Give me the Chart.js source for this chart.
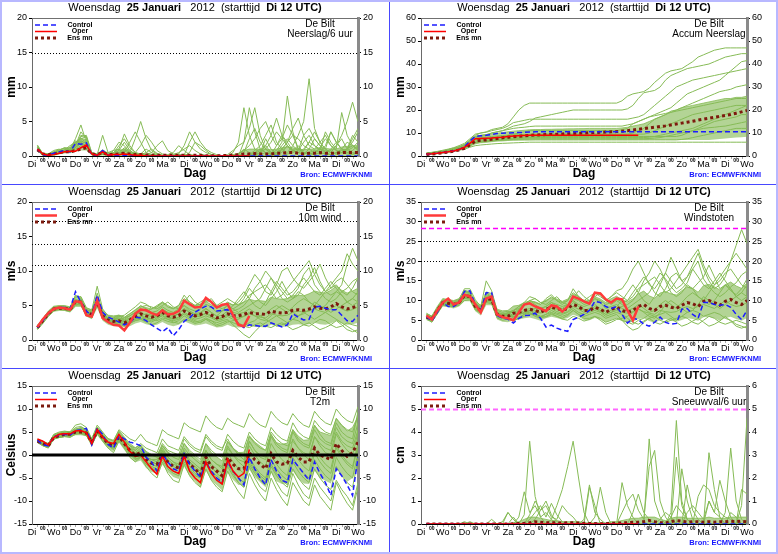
<!DOCTYPE html>
<html>
<head>
<meta charset="utf-8">
<script src="https://cdn.jsdelivr.net/npm/chart.js@4.4.1/dist/chart.umd.min.js"></script>
<style>
  body { margin: 0; background: #fff; }
  #sheet { position: relative; width: 778px; height: 554px; overflow: hidden; background: #fff; }
  #sheet canvas { position: absolute; }
  .rule { position: absolute; background: #4848ff; }
  #frame { position: absolute; left: 0; top: 0; width: 774px; height: 550px; border: 2px solid #b8b8ff; pointer-events: none; }
</style>
</head>
<body>
<div id="sheet">
  <canvas id="p1" width="389" height="184" style="left:0;top:0"></canvas>
  <canvas id="p2" width="389" height="184" style="left:389px;top:0"></canvas>
  <canvas id="p3" width="389" height="184" style="left:0;top:184px"></canvas>
  <canvas id="p4" width="389" height="184" style="left:389px;top:184px"></canvas>
  <canvas id="p5" width="389" height="186" style="left:0;top:368px"></canvas>
  <canvas id="p6" width="389" height="186" style="left:389px;top:368px"></canvas>
  <div class="rule" style="left:389px;top:0;width:1px;height:554px"></div>
  <div class="rule" style="left:0;top:184px;width:778px;height:1px"></div>
  <div class="rule" style="left:0;top:368px;width:778px;height:1px"></div>
  <div id="frame"></div>
</div>
<script>
// x axis: forecast hours from Di 12 UTC, one value every 6 hours (first at +6h)
const STEP_H = 6;
const dayNames = ['Di', 'Wo', 'Do', 'Vr', 'Za', 'Zo', 'Ma', 'Di', 'Wo', 'Do', 'Vr', 'Za', 'Zo', 'Ma', 'Di', 'Wo'];
const midnightLabel = '00';
const titleParts = [['Woensdag  ', false], ['25 Januari   ', true], ['2012  (starttijd  ', false], ['Di 12 UTC)', true]];
const station = 'De Bilt';

// ---------- Neerslag / 6 uur ----------
const rain6Ctrl = [
  1.0,0.2,0.1,0.4,0.6,0.8,0.6,1.8,1.7,1.9,
  0.2,0.1,0.8,0.1,0.1,0.1,0.1,0.1,0,0,
  0,0,0,0,0,0,0,0,0,0,
  0,0,0,0,0,0,0,0,0,0,
  0,0,0,0,0,0,0,0,0,0,
  0,0,0,0,0,0,0,0,0,0];
const rain6Oper = [
  1.0,0.3,0.1,0.2,0.4,0.6,0.7,0.7,1.2,1.6,
  0.3,0.1,0.6,0.1,0.2,0.2,0.3,0.2,0.1,0.1,
  0,0,0,0,0,0,0,0,0,0,
  0,0,0,0,0,0,0,0,0,0];
const rain6Mean = [
  0.9,0.3,0.2,0.3,0.5,0.6,0.6,0.8,1.0,1.2,
  0.3,0.2,0.5,0.2,0.2,0.3,0.4,0.3,0.2,0.2,
  0.15,0.1,0.1,0.1,0.1,0.1,0.1,0.1,0.1,0.1,
  0.1,0.05,0.05,0.05,0.05,0.1,0.1,0.2,0.3,0.3,
  0.35,0.3,0.3,0.3,0.4,0.4,0.5,0.5,0.4,0.3,
  0.4,0.4,0.5,0.4,0.4,0.4,0.5,0.5,0.5,0.5];
// where most members crowd together
const rain6CoreLow = [
  0.7,0.1,0.1,0.2,0.3,0.4,0.4,0.6,0.8,0.8,
  0.1,0,0.1,0,0,0,0,0,0,0,
  0,0,0,0,0,0,0,0,0,0,
  0,0,0,0,0,0,0,0,0,0,
  0,0,0,0,0,0,0,0,0,0,
  0,0,0,0,0,0,0,0,0,0];
const rain6CoreHigh = [
  1.3,0.4,0.3,0.6,0.9,1.2,1.2,2.0,2.6,2.3,
  0.5,0.3,0.9,0.4,0.5,0.8,1.0,0.6,0.4,0.3,
  0.3,0.2,0.2,0.1,0.1,0.1,0.2,0.2,0.2,0.1,
  0.1,0.05,0.05,0.05,0.05,0.1,0.2,0.4,0.8,1.0,
  1.0,1.0,1.0,0.9,1.0,1.2,1.3,1.2,1.0,0.9,
  1.0,1.0,1.2,1.1,1.0,1.0,1.3,1.4,1.5,1.5];
const rain6Members = [
  [1.4,0.2,0.1,0.5,0.8,1.2,0.9,2.5,4.5,2.0, 0.4,0.2,3.0,0.5,0.3,0.2,1.0,0.5,0.2,0.1, 0,0,0,0,0.2,0.5,1.5,0.8,0.2,0, 0,0,0,0,0,0,0.5,2.0,7.0,3.0, 1.0,0.5,2.5,1.0,0.3,0.5,1.5,0.8,0.5,0.3, 1.0,2.5,1.5,0.5,0.2,0.5,1.0,2.0,1.5,0.8],
  [1.0,0.1,0.3,0.8,1.0,0.5,0.8,1.5,3.0,2.8, 0.2,0.1,0.5,0.2,0.5,1.0,3.2,1.5,0.5,0.2, 0.5,1.0,0.4,0.1,0,0,0,0,0,0, 0,0,0,0,0,0.2,0.8,1.5,2.0,7.0, 3.5,1.0,0.5,0.2,1.5,3.0,2.0,0.8,0.5,1.0, 2.0,3.5,2.0,1.0,0.5,0.3,0.5,1.0,2.5,4.0],
  [0.8,0.3,0.2,0.3,0.4,0.9,1.5,2.0,2.2,1.8, 0.5,0.1,0.3,0.1,0.8,2.0,1.5,0.5,2.5,5.0, 2.5,0.8,0.3,0.1,0,0,0,0,0,0, 0,0,0,0,0,0,0,0.3,1.0,0.5, 0.2,0.5,1.5,3.0,5.5,3.0,1.5,0.8,1.0,0.5, 0.3,0.2,0.5,1.5,3.5,2.0,1.0,0.5,0.8,1.5],
  [1.2,0.2,0.1,0.2,0.6,0.8,0.5,1.2,1.8,1.5, 0.3,0.1,0.2,0.1,0.1,0.3,0.8,0.3,0.5,1.5, 3.0,2.0,0.8,0.3,0.1,0,0,0,0,0, 0,0,0,0,0,0,0,0,0.5,2.5, 4.0,2.0,1.0,0.5,0.8,2.0,8.7,3.5,1.0,0.5, 0.3,0.5,1.0,0.8,0.5,1.5,2.5,1.0,0.5,0.3],
  [1.5,0.3,0.1,0.1,0.3,0.5,0.8,1.8,2.5,2.8, 0.2,0.1,0.4,0.2,0.2,0.5,0.3,0.2,0.1,0.1, 0.2,0.5,1.5,2.2,0.8,0.3,0.2,0.1,2.0,3.5, 2.0,1.0,0.5,0.2,0,0,0,0,0,0.2, 0.8,1.5,3.0,4.5,2.0,1.0,0.5,1.5,3.0,5.0, 11.2,4.0,2.0,1.0,0.5,0.3,0.5,1.0,3.0,2.0],
  [0.9,0.1,0.2,0.4,0.5,0.7,0.6,1.0,1.5,1.2, 0.3,0.2,0.6,0.3,0.1,0.2,0.4,0.2,0.1,0.1, 0,0,0,0,0,0,0,0,0.5,2.0, 1.5,0.8,0.2,0,0,0,0.1,0.3,0.8,1.5, 2.5,4.0,5.0,3.0,1.5,2.5,4.5,3.0,1.0,0.8, 2.0,1.5,0.8,3.5,2.0,1.0,6.3,3.0,1.5,1.0],
  [1.1,0.2,0.1,0.3,0.7,0.8,1.0,2.0,2.5,2.0, 0.4,0.2,0.3,0.5,0.8,1.0,0.5,2.0,3.5,2.0, 0.5,0.2,0.1,0,0,0,0,0,0,0, 0,0,0,0,0,0,0,0,0,0, 0,0.5,1.0,2.0,3.5,2.5,1.5,0.5,0.8,2.0, 3.0,1.5,1.0,0.5,0.8,1.5,3.0,5.0,7.8,5.0],
  [1.3,0.4,0.2,0.3,0.4,0.5,0.7,1.5,3.5,2.5, 0.3,0.2,0.8,0.3,0.1,0.1,0.2,0.1,0,0.1, 0.1,0,0,0,0,0.2,0.5,1.0,1.5,0.8, 0.3,0.1,0,0,0,0,0,0,2.0,4.0, 7.0,3.0,1.0,0.3,0.5,1.0,2.0,3.0,2.5,1.5, 1.0,0.5,0.3,0.5,1.0,2.0,1.0,0.5,0.3,0.5],
  [0.7,0.2,0.3,0.6,0.9,1.1,0.8,1.2,2.0,1.5, 0.2,0.1,0.5,0.1,0.2,0.5,1.2,0.8,0.3,0.2, 0,0,0,0,0,0,0,0,0,0, 0,0,0,0,0,0,0,0,0,0, 0.3,0.8,1.5,0.5,0.3,1.0,2.0,4.0,5.5,3.0, 1.5,1.0,2.0,3.0,1.5,0.8,0.5,1.0,2.0,3.5],
  [1.0,0.3,0.1,0.2,0.5,0.6,0.9,1.6,2.8,3.0, 0.5,0.2,0.4,0.2,0.3,0.8,2.0,0.8,0.2,0.1, 0,0,0,0,0,0,0,0,0,0, 0,0,0,0,0,0,0,0,0,0, 0,0,0,0,0,0,0.3,0.8,1.5,0.5, 0.3,0.5,1.2,2.5,1.5,0.8,0.5,0.3,0.2,0.5],
  [1.6,0.3,0.2,0.4,0.6,0.9,1.2,2.2,1.8,1.0, 0.2,0.1,0.3,0.1,0.1,0.2,0.3,0.2,0.1,0.3, 1.0,0.5,0.2,0,0,0,0.3,1.5,3.5,2.0, 1.0,0.5,0.2,0,0,0,0,0,0,0, 0,0.2,0.5,0.3,0.2,0.8,1.5,0.8,0.5,0.3, 0.5,0.8,0.5,0.3,0.2,0.5,0.8,1.0,1.5,1.0],
  [0.8,0.2,0.1,0.3,0.4,0.7,0.8,1.3,2.2,1.8, 0.3,0.1,0.6,0.2,0.4,1.5,2.5,1.2,0.5,0.3, 0.2,0.1,0,0,0,0,0,0,0,0, 0,0,0,0,0,0,0,0,0,0, 0.5,1.0,0.5,0.3,0.5,1.5,2.5,1.5,0.8,3.0, 4.0,2.5,1.5,1.0,3.5,2.0,1.0,0.8,1.2,2.0]
];
const rainRefLevels = [15];

// ---------- Accumulated precipitation ----------
const accCtrl = [
  0.8,1.0,1.2,1.5,1.8,2.2,2.8,4.0,6.5,8.5,
  8.8,9.0,9.3,9.8,9.9,10.0,10.1,10.2,10.3,10.4,
  10.5,10.5,10.5,10.5,10.5,10.5,10.5,10.5,10.5,10.5,
  10.5,10.5,10.5,10.5,10.5,10.5,10.5,10.5,10.5,10.5,
  10.5,10.5,10.5,10.5,10.5,10.5,10.5,10.5,10.5,10.5,
  10.5,10.5,10.5,10.5,10.5,10.5,10.5,10.5,10.5,10.5];
const accOper = [
  0.9,1.0,1.2,1.5,1.8,2.2,2.8,3.8,5.5,7.5,
  7.6,7.7,7.8,8.0,8.2,8.5,8.7,8.8,8.9,9.0,
  9.0,9.0,9.0,9.0,9.0,9.0,9.0,9.0,9.0,9.0,
  9.0,9.0,9.0,9.0,9.0,9.0,9.0,9.0,9.0,9.0];
const accMean = [
  0.7,0.9,1.1,1.4,1.7,2.1,2.6,3.3,4.8,6.5,
  6.8,7.0,7.3,7.6,7.9,8.2,8.4,8.6,8.8,9.0,
  9.1,9.2,9.3,9.4,9.5,9.6,9.7,9.8,9.9,10.0,
  10.1,10.2,10.3,10.4,10.5,10.6,10.8,11.0,11.3,11.6,
  11.9,12.2,12.5,12.8,13.1,13.5,13.9,14.3,14.7,15.1,
  15.6,16.0,16.4,16.8,17.2,17.6,18.0,18.6,19.2,19.8];
const accCoreLow = [
  0.7,0.9,1.1,1.3,1.6,2.0,2.4,3.0,4.0,5.0,
  5.5,5.7,6.0,6.2,6.3,6.5,6.6,6.7,6.8,6.9,
  7.0,7.0,7.0,7.0,7.0,7.0,7.0,7.0,7.0,7.0,
  7.0,7.0,7.0,7.0,7.0,7.0,7.0,7.0,7.0,7.0,
  7.0,7.0,7.0,7.0,7.0,7.0,7.0,7.0,7.0,7.0,
  7.0,7.0,7.0,7.2,7.4,7.6,7.8,8.0,8.2,8.4];
const accCoreHigh = [
  1.2,1.5,1.8,2.2,2.7,3.3,4.0,5.0,6.8,8.5,
  9.0,9.3,9.6,9.9,10.2,10.5,10.8,11.0,11.2,11.4,
  11.5,11.5,11.6,11.6,11.7,11.7,11.8,11.8,11.9,11.9,
  12.0,12.0,12.0,12.0,12.0,12.0,12.2,12.5,13.0,13.5,
  14.0,15.0,16.0,17.0,18.0,19.0,20.0,21.0,21.5,22.0,
  22.5,23.0,23.5,24.0,24.5,25.0,25.0,25.5,25.5,26.0];
const accMembers = [
  [1.2,1.5,1.8,2.2,2.8,3.5,4.0,5.0,7.0,9.0, 10.0,10.5,11.5,12.0,12.5,14.0,17.0,20.0,22.0,23.0, 23,23,23,23,23,23,23,23,23,23, 23,23,23,23,23,23,24.0,26.0,27.0,27.5, 28.0,29.5,32.0,34.0,36.0,37.0,37.5,38.0,39.5,41.0, 43.0,44.0,45.0,46.0,46.5,47.0,47.0,47.0,47.0,47.0],
  [1.0,1.3,1.5,2.0,2.5,3.0,3.8,4.5,6.0,8.0, 8.5,9.0,10.0,10.5,11.0,12.0,13.0,13.5,14.0,15.0, 16.5,17.0,17.5,18.0,18.5,19.0,19.5,20.0,20.0,20.0, 20,20,20,20,20,20,20,20.5,22.0,25.0, 27.5,28.0,28.5,30.0,33.0,35.0,36.0,37.0,38.0,38.5, 39.0,39.5,40.0,41.0,42.0,43.0,43.5,44.0,44.5,44.5],
  [0.9,1.1,1.4,1.8,2.3,3.0,3.5,4.2,5.5,7.0, 7.5,7.8,8.0,8.2,8.5,9.0,9.5,10.0,10.5,11.0, 11,11,11,11,11,11,11,11,11,11, 11,11,11,11,11,11,11.5,12.0,14.0,15.0, 16.0,17.0,18.0,19.0,20.0,21.0,23.0,25.0,27.0,28.0, 29.0,30.0,31.0,32.0,33.0,35.0,37.0,39.0,41.0,41.5],
  [1.3,1.6,2.0,2.5,3.0,3.6,4.5,5.5,7.5,9.5, 10.0,10.3,11.0,11.5,12.0,13.0,14.5,15.0,15.5,16.0, 16,16,16,16,16,16,16,16,16,16, 16,16,16,16,16,16,16,16,16.5,17.0, 18.0,20.0,22.0,24.0,26.0,28.0,30.0,31.0,32.0,33.0, 33.5,34.0,34.5,35.0,35.5,36.0,36.5,37.0,37.5,38.0],
  [0.8,1.0,1.2,1.5,2.0,2.5,3.0,3.8,5.0,6.5, 7.0,7.2,7.5,7.8,8.0,8.2,8.5,8.8,9.0,9.2, 9.3,9.4,9.5,9.5,9.5,9.5,9.5,9.5,9.5,9.5, 9.5,9.5,9.5,9.5,9.5,9.5,9.5,9.5,10.0,11.0, 12.0,14.0,16.0,17.0,18.0,19.5,20.0,21.0,22.0,23.0, 24.0,25.0,26.0,27.0,28.0,28.5,29.0,30.0,30.5,31.0],
  [1.1,1.4,1.7,2.1,2.6,3.2,3.9,4.8,6.5,8.5, 9.0,9.3,10.0,10.5,11.0,11.5,12.0,12.3,12.5,12.8, 13,13,13,13,13,13,13,13,13,13, 13,13,13,13,13,13,13,13.5,14.0,15.0, 16.0,17.0,17.5,18.0,18.5,19.0,19.5,20.0,20.5,21.0, 21.5,22.0,22.5,23.0,23.5,24.0,24.5,25.0,25.0,25.0],
  [0.9,1.2,1.5,1.9,2.4,2.9,3.5,4.3,5.8,7.5, 8.0,8.2,8.5,8.7,8.9,9.0,9.2,9.3,9.4,9.5, 9.5,9.5,9.5,9.5,9.5,9.5,9.5,9.5,9.5,9.5, 9.5,9.5,9.5,9.5,9.5,9.5,9.5,9.5,9.5,9.5, 9.5,10.0,11.0,12.0,13.0,14.0,15.0,16.0,17.0,18.0, 18.5,19.0,19.5,20.0,20.5,21.0,21.5,22.0,22.0,22.0],
  [1.0,1.2,1.4,1.7,2.1,2.6,3.2,4.0,5.0,6.0, 6.5,6.7,7.0,7.2,7.4,7.6,7.8,8.0,8.2,8.3, 8.4,8.5,8.5,8.5,8.5,8.5,8.5,8.5,8.5,8.5, 8.5,8.5,8.5,8.5,8.5,8.5,8.5,8.5,8.5,8.5, 8.5,8.5,8.5,8.5,8.5,8.5,8.5,9.0,10.0,11.0, 12.0,13.0,14.0,15.0,15.5,16.0,16.5,17.0,18.0,18.0],
  [0.7,0.9,1.1,1.4,1.8,2.2,2.7,3.4,4.5,5.5, 6.0,6.2,6.5,6.7,6.9,7.0,7.2,7.3,7.4,7.5, 7.5,7.5,7.5,7.5,7.5,7.5,7.5,7.5,7.5,7.5, 7.5,7.5,7.5,7.5,7.5,7.5,7.5,7.5,7.5,7.5, 7.5,7.6,7.8,8.0,8.5,9.0,9.5,10.0,10.5,11.0, 11.5,12.0,12.3,12.5,12.8,13.0,13.5,14.0,14.5,15.0],
  [0.8,1.0,1.3,1.6,2.0,2.5,3.0,3.7,4.8,6.0, 6.3,6.5,6.7,6.8,6.9,7.0,7.0,7.0,7.0,7.0, 7,7,7,7,7,7,7,7,7,7, 7,7,7,7,7,7,7,7,7,7, 7,7,7,7,7,7,7,7.2,7.5,8.0, 8.5,9.0,9.5,10.0,10.5,11.0,11.5,12.0,12.0,12.0],
  [0.6,0.8,1.0,1.3,1.6,2.0,2.5,3.0,3.8,4.5, 4.8,5.0,5.2,5.4,5.5,5.6,5.7,5.8,5.9,6.0, 6,6,6,6,6,6,6,6,6,6, 6,6,6,6,6,6,6,6,6,6, 6,6,6,6,6,6,6,6,6,6, 6,6,6,6,6,6,6,6,6,6],
  [0.9,1.1,1.3,1.6,2.0,2.4,2.9,3.6,4.6,5.8, 6.2,6.4,6.6,6.8,7.0,7.2,7.4,7.6,7.8,8.0, 8,8,8,8,8,8,8,8,8,8, 8,8,8,8,8,8,8,8,8,8, 8.0,8.2,8.5,9.0,9.5,10.0,10.5,11.0,11.5,12.0, 13.0,14.0,15.0,16.0,17.0,18.0,19.0,20.0,21.0,22.0]
];

// ---------- 10m wind ----------
const windCtrl = [
  1.8,2.8,3.8,4.5,4.7,4.7,4.5,7.0,5.5,4.2,
  3.5,6.5,4.0,3.3,3.0,2.6,2.2,2.5,3.3,3.2,
  2.8,2.2,1.7,1.2,1.8,0.6,1.5,2.7,3.2,4.0,
  4.5,4.9,4.8,4.2,4.3,4.4,3.5,2.3,1.8,2.2,
  2.1,2.0,2.0,2.5,2.2,1.9,2.2,3.8,3.3,2.9,
  3.0,4.8,4.9,4.6,4.4,4.4,3.6,2.8,2.7,3.6];
const windOper = [
  1.9,3.0,3.9,4.5,4.7,4.6,4.4,5.6,5.5,3.6,
  3.4,5.7,3.2,2.6,2.2,2.1,1.4,2.5,3.8,4.4,
  4.3,3.9,3.6,4.3,3.7,3.8,4.2,5.7,5.2,4.7,
  4.8,6.1,5.5,4.7,5.1,5.2,3.6,2.2,2.0,3.5];
const windMean = [
  1.8,2.8,3.8,4.5,4.6,4.6,4.4,5.6,5.5,4.0,
  3.7,5.5,3.5,2.9,2.7,2.8,2.5,2.9,3.4,3.8,
  3.5,3.3,3.5,4.0,3.5,3.3,3.5,4.2,3.8,3.5,
  3.7,4.0,3.6,3.2,3.4,3.8,3.5,3.5,3.7,4.0,
  3.8,3.8,3.7,4.2,4.0,3.9,4.0,4.3,4.4,4.3,
  4.5,4.8,4.6,4.5,4.8,5.3,4.8,4.5,4.7,5.0];
const windCoreLow = [
  1.5,2.5,3.4,4.1,4.2,4.2,4.0,4.8,4.8,3.4,
  3.0,4.6,2.8,2.2,2.0,2.0,1.8,2.0,2.4,2.6,
  2.3,2.1,2.2,2.6,2.2,2.0,2.2,2.7,2.4,2.1,
  2.2,2.4,2.1,1.8,1.9,2.2,1.9,1.8,1.9,2.1,
  1.9,1.9,1.8,2.2,2.0,1.9,2.0,2.2,2.3,2.2,
  2.3,2.5,2.3,2.2,2.4,2.8,2.4,2.2,2.3,2.5];
const windCoreHigh = [
  2.1,3.1,4.2,4.9,5.0,5.0,4.8,6.4,6.2,4.6,
  4.4,6.4,4.3,3.6,3.5,3.6,3.3,3.8,4.4,4.9,
  4.7,4.5,4.8,5.4,4.8,4.6,4.8,5.7,5.2,4.9,
  5.2,5.6,5.1,4.6,4.9,5.4,5.1,5.2,5.5,5.9,
  5.7,5.7,5.6,6.2,6.0,5.9,6.0,6.4,6.5,6.4,
  6.7,7.1,6.9,6.8,7.2,7.8,7.2,6.8,7.1,7.5];
const windMembers = [
  [1.6,2.5,3.5,4.3,4.5,4.4,4.2,5.2,5.0,3.5, 3.2,5.0,3.0,2.5,2.3,2.5,2.2,2.8,3.5,4.2, 4.5,4.0,3.8,4.5,4.0,3.5,3.8,4.5,4.0,3.6, 3.8,4.5,4.0,3.5,4.2,5.0,4.5,5.0,6.0,7.5, 6.5,5.5,5.0,6.0,7.0,8.5,7.0,6.0,6.5,8.0, 9.0,10.5,8.5,7.0,6.5,7.0,8.0,11.0,13.3,11.5],
  [2.0,3.0,4.0,4.7,4.8,4.8,4.6,6.5,6.0,4.5, 4.0,6.8,4.0,3.2,3.0,3.2,2.8,3.0,3.2,3.5, 3.0,2.8,3.2,3.5,3.0,2.8,3.0,3.8,3.2,2.8, 2.5,3.0,2.8,2.2,2.5,2.8,2.5,2.2,2.0,2.5, 2.8,3.5,3.0,2.5,2.0,2.2,2.5,3.0,2.8,2.2, 2.0,2.5,3.0,2.8,2.2,1.8,2.0,2.5,2.2,2.0],
  [1.7,2.7,3.7,4.4,4.6,4.5,4.3,5.8,5.3,4.2, 3.8,5.2,3.8,3.0,3.2,3.5,3.0,3.5,4.0,4.5, 4.2,4.5,5.0,5.5,4.8,4.5,5.0,6.0,5.5,5.0, 5.2,5.8,5.5,4.8,5.0,5.5,5.0,5.5,6.5,8.0, 9.5,8.5,7.0,6.5,8.0,10.0,10.5,9.0,8.0,7.5, 8.5,9.5,11.0,9.0,7.5,8.0,7.0,6.5,7.5,9.0],
  [1.9,2.9,3.9,4.6,4.7,4.7,4.5,5.5,5.8,4.3, 4.2,5.8,3.6,2.8,2.5,2.3,2.0,2.4,2.8,3.0, 2.6,2.2,2.5,3.0,2.7,2.5,2.8,3.5,3.0,2.6, 2.8,3.2,2.8,2.5,2.8,3.0,2.2,1.5,0.8,0.3, 1.2,2.0,2.5,3.0,3.5,3.0,2.5,3.0,3.5,4.0, 3.5,3.0,3.5,4.0,3.5,3.0,2.5,2.0,1.5,1.0],
  [1.8,2.6,3.6,4.5,4.6,4.5,4.3,5.6,5.7,4.0, 3.6,5.4,3.4,2.7,2.6,3.0,3.2,3.5,4.0,4.8, 5.0,4.8,4.5,5.0,5.5,4.8,4.5,5.5,6.5,5.5, 5.0,5.5,6.0,5.0,4.5,5.0,4.5,4.0,4.5,5.0, 5.5,6.0,7.5,9.0,8.0,7.0,6.0,6.5,7.5,9.5, 10.5,8.0,7.0,6.0,5.5,6.0,7.0,7.5,8.5,9.0],
  [1.5,2.4,3.4,4.2,4.4,4.3,4.1,5.0,5.2,3.8, 3.4,5.0,3.2,2.6,2.4,2.6,2.3,2.5,2.8,3.0, 3.2,3.0,2.8,3.2,3.0,2.6,2.4,3.0,2.8,2.4, 2.6,3.0,2.5,2.0,2.2,2.6,2.8,3.0,3.5,4.0, 3.5,3.0,2.8,3.5,4.5,5.0,4.5,4.0,3.5,3.8, 4.5,5.5,5.0,4.5,4.0,4.5,5.0,5.5,6.0,5.5],
  [2.1,3.1,4.1,4.8,4.9,4.9,4.7,6.2,6.3,4.7, 4.3,7.8,4.5,3.5,3.3,3.6,3.3,3.8,4.3,5.0, 4.5,4.0,4.2,4.8,4.3,4.0,4.5,5.0,4.5,4.2, 4.5,5.2,4.8,4.0,4.2,4.5,4.0,3.8,4.0,4.5, 4.0,3.5,3.8,4.5,5.0,4.5,4.0,4.8,5.5,6.0, 5.5,5.0,4.5,5.0,6.0,7.0,6.5,5.5,5.0,5.5],
  [1.7,2.7,3.6,4.4,4.5,4.5,4.3,5.4,5.4,3.9, 3.5,5.6,3.3,2.8,2.9,3.2,2.9,3.2,3.6,4.0, 3.6,3.4,3.8,4.4,4.0,3.8,4.2,5.0,4.2,3.8, 4.0,4.6,4.0,3.4,3.6,4.2,5.0,6.0,7.0,6.0, 5.0,4.5,5.5,7.0,8.5,7.5,6.5,7.0,8.0,9.0, 8.0,7.0,6.5,7.5,8.5,7.5,6.5,5.5,6.0,7.0],
  [1.9,2.8,3.8,4.5,4.7,4.6,4.4,5.7,5.6,4.1, 3.9,5.5,3.6,3.0,2.8,2.9,2.6,3.0,3.0,3.2, 2.8,2.6,3.0,3.6,3.2,3.0,3.2,3.8,3.4,3.0, 3.2,3.5,3.2,2.8,3.0,3.4,3.0,2.5,2.0,1.8, 2.2,2.5,2.0,1.8,2.2,2.5,2.0,1.5,1.8,2.2, 2.5,2.0,1.5,1.8,2.2,2.8,2.2,1.5,1.2,1.5],
  [1.6,2.6,3.6,4.3,4.5,4.5,4.2,5.3,5.1,3.7, 3.3,5.3,3.5,3.1,3.0,3.4,3.6,4.2,4.8,5.5, 5.2,4.6,4.8,5.5,5.0,4.6,5.0,6.5,5.5,5.0, 5.5,6.0,5.5,5.0,5.5,6.0,5.5,5.0,5.5,6.5, 7.0,7.5,8.0,7.0,6.0,6.5,7.5,8.5,9.5,10.5, 11.5,9.5,8.0,7.0,7.5,8.5,9.0,8.0,7.0,6.5],
  [2.0,3.0,3.9,4.6,4.8,4.7,4.5,5.9,5.6,4.4, 4.1,6.0,3.9,3.2,3.1,3.0,2.7,2.6,3.0,3.5, 3.8,3.6,3.3,3.8,3.6,3.4,3.8,4.6,4.0,3.6, 3.4,4.0,3.5,3.0,3.3,3.8,4.2,4.5,5.0,6.0, 7.5,8.5,10.0,9.0,7.5,6.0,5.5,6.0,7.0,6.5, 5.5,5.0,6.0,7.0,8.0,9.0,10.0,12.5,11.0,10.0],
  [1.7,2.7,3.7,4.5,4.6,4.6,4.4,5.5,5.4,4.0, 3.7,5.6,3.5,2.9,2.7,2.7,2.4,2.7,3.1,3.4, 3.3,3.1,3.4,3.9,3.4,3.1,3.3,4.0,3.6,3.3, 3.5,3.8,3.4,3.0,3.2,3.6,3.3,3.2,3.4,3.8, 3.5,3.3,3.2,3.8,3.6,3.5,3.6,4.0,4.2,4.0, 4.2,4.5,4.2,4.0,4.5,5.0,4.5,4.2,4.4,4.8]
];
const windRefLevels = [10.8, 13.9, 17.2];

// ---------- Windstoten ----------
const gustCtrl = [
  6.0,4.8,7.0,9.5,8.5,8.5,9.5,12.3,12.5,9.0,
  7.5,12.0,12.0,6.2,5.5,5.3,4.3,5.5,6.2,6.3,
  6.8,5.5,3.3,3.8,3.0,2.5,2.2,5.2,5.8,6.5,
  7.5,9.8,9.5,8.5,8.0,8.5,6.5,4.3,5.5,5.2,
  4.0,3.5,4.5,5.8,4.5,4.0,4.2,7.8,8.0,6.5,
  5.5,9.5,9.5,9.0,8.8,9.0,8.3,6.5,5.2,7.5];
const gustOper = [
  6.2,5.2,7.5,9.5,10.5,9.0,9.5,11.5,11.0,9.0,
  7.0,10.5,11.0,6.5,5.8,5.5,5.0,7.0,9.0,9.3,
  8.5,8.0,7.3,8.8,8.5,7.2,8.5,11.0,10.5,9.8,
  9.2,12.0,11.8,10.3,9.5,10.5,10.3,7.5,5.0,8.5];
const gustMean = [
  5.8,5.3,7.5,9.5,9.3,9.0,9.5,11.3,11.0,8.5,
  7.5,10.5,10.3,6.5,6.0,6.0,6.8,7.0,7.5,7.8,
  7.5,7.0,7.8,8.3,8.0,7.5,8.0,9.0,8.5,7.5,
  7.5,8.3,7.8,7.0,7.8,8.3,7.5,7.0,7.5,8.5,
  9.0,8.0,7.5,8.5,8.8,8.3,8.0,8.8,9.5,9.2,
  8.5,9.8,10.0,9.5,8.8,9.8,10.3,9.5,9.0,10.0];
const gustCoreLow = [
  5.0,4.5,6.5,8.5,8.3,8.0,8.5,9.8,9.8,7.3,
  6.2,8.8,8.8,5.2,4.6,4.5,5.0,5.2,5.5,5.7,
  5.3,4.9,5.5,5.9,5.6,5.2,5.6,6.4,5.9,5.1,
  5.0,5.6,5.2,4.5,5.1,5.5,4.8,4.3,4.6,5.3,
  5.6,4.8,4.4,5.1,5.3,4.9,4.6,5.1,5.6,5.3,
  4.9,5.8,5.9,5.5,4.9,5.6,5.9,5.3,4.9,5.6];
const gustCoreHigh = [
  6.6,6.1,8.5,10.5,10.3,10.0,10.5,12.6,12.3,9.8,
  8.8,12.2,11.8,7.8,7.4,7.5,8.6,8.8,9.5,9.9,
  9.7,9.1,10.1,10.7,10.4,9.8,10.4,11.6,11.1,9.9,
  10.0,11.0,10.4,9.5,10.5,11.1,10.2,9.7,10.4,11.7,
  12.4,11.2,10.6,11.9,12.3,11.7,11.4,12.5,13.4,13.1,
  12.1,13.8,14.1,13.5,12.7,14.0,14.7,13.7,13.1,14.4];
const gustMembers = [
  [5.5,4.5,6.8,9.0,8.8,8.5,9.0,10.5,10.5,7.8, 7.0,9.8,9.5,5.8,5.5,5.5,6.5,7.5,9.0,10.0, 9.5,9.0,10.5,11.5,10.0,9.0,10.0,12.0,11.0,9.5, 10.0,12.0,11.5,10.0,11.0,12.5,13.0,15.0,18.0,20.0, 17.0,14.0,13.0,15.0,17.0,21.0,18.0,15.0,16.0,19.0, 22.0,18.0,15.0,13.0,14.0,16.0,20.0,24.0,28.0,24.5],
  [6.5,5.8,8.0,10.0,9.8,9.5,10.0,12.5,12.0,9.5, 8.0,11.5,11.0,7.0,6.5,6.5,5.5,6.5,7.0,7.5, 6.5,6.0,6.5,7.0,6.5,6.0,6.5,7.5,6.5,5.5, 5.5,6.0,5.5,4.5,5.0,5.5,5.0,4.5,4.0,5.0, 5.5,6.5,6.0,5.0,4.5,5.0,5.5,6.0,5.5,4.5, 4.0,5.0,6.0,5.5,4.5,4.0,4.5,5.0,4.5,4.0],
  [5.8,5.0,7.2,9.3,9.0,8.8,9.3,11.0,11.5,8.8, 7.8,10.8,10.5,6.8,6.5,7.0,7.5,8.5,9.0,9.5, 8.5,8.0,8.5,9.5,9.0,8.5,9.0,10.5,10.0,9.0, 9.5,10.5,10.0,9.0,9.5,10.5,9.5,10.0,12.0,14.0, 16.0,14.5,12.0,11.0,13.0,16.0,17.0,15.0,13.5,13.0, 14.5,16.0,19.0,16.0,13.0,14.0,12.5,11.5,13.0,15.5],
  [6.2,5.5,7.8,9.8,9.6,9.3,9.8,12.0,11.8,9.2, 8.2,11.0,10.8,6.3,5.8,5.3,4.8,5.5,6.5,6.8, 6.0,5.5,6.0,6.8,6.0,5.5,6.2,7.5,6.5,6.0, 6.5,7.0,6.5,5.5,6.0,6.5,5.0,3.5,2.5,3.0, 4.5,5.5,6.0,6.5,7.0,6.0,5.0,6.0,7.0,7.5, 7.0,6.0,6.5,7.0,6.5,5.5,5.0,4.0,3.5,3.0],
  [5.6,5.0,7.5,9.6,9.4,9.2,9.6,11.2,11.3,8.5, 7.3,10.2,10.0,6.6,6.2,6.8,7.5,8.0,9.0,10.0, 10.5,9.5,9.0,10.0,11.0,9.5,9.0,10.5,12.5,11.0, 10.0,11.0,12.0,10.0,9.0,10.0,9.0,8.0,9.0,10.0, 11.0,12.0,14.5,17.0,15.5,13.5,12.0,13.0,14.5,18.0, 20.0,15.5,13.5,12.0,11.0,12.0,13.5,14.5,16.5,17.5],
  [5.3,4.6,6.6,8.8,8.6,8.4,8.8,10.0,10.2,7.6, 6.8,9.5,9.2,5.6,5.0,5.3,5.0,5.5,6.0,6.5, 6.5,6.0,5.8,6.5,6.0,5.3,5.0,6.0,5.5,4.8, 5.2,6.0,5.0,4.0,4.5,5.2,5.5,6.0,7.0,8.0, 7.0,6.0,5.5,7.0,9.0,10.0,9.0,8.0,7.0,7.5, 9.0,11.0,10.0,9.0,8.0,9.0,10.0,11.0,12.0,11.0],
  [6.8,6.0,8.2,10.2,10.0,9.8,10.3,13.0,13.0,10.2, 8.5,15.0,12.5,7.5,7.0,7.3,6.8,7.8,8.8,10.0, 9.0,8.0,8.5,9.5,8.5,8.0,9.0,10.0,9.0,8.5, 9.0,10.5,9.5,8.0,8.5,9.0,8.0,7.5,8.0,9.0, 8.0,7.0,7.5,9.0,10.0,9.0,8.0,9.5,11.0,12.0, 11.0,10.0,9.0,10.0,12.0,14.0,13.0,11.0,10.0,11.0],
  [5.7,5.2,7.3,9.4,9.2,8.9,9.4,10.8,11.0,8.4, 7.2,10.5,10.0,6.5,6.3,6.8,6.3,6.8,7.5,8.0, 7.5,7.0,7.8,9.0,8.0,7.5,8.5,10.0,8.5,7.5, 8.0,9.0,8.0,7.0,7.5,8.5,10.0,12.0,14.0,12.0, 10.0,9.0,11.0,14.0,17.0,15.0,13.0,14.0,16.0,18.0, 16.0,14.0,13.0,15.0,17.0,15.0,13.0,11.0,12.0,14.0],
  [6.0,5.4,7.6,9.6,9.4,9.1,9.6,11.6,11.4,8.8, 7.8,10.8,10.6,6.8,6.2,6.2,5.8,6.5,6.8,7.0, 6.2,5.8,6.5,7.5,6.8,6.5,7.0,8.0,7.0,6.5, 7.0,7.5,7.0,6.0,6.5,7.0,6.5,5.5,4.5,4.0, 4.8,5.5,4.5,4.0,4.8,5.5,4.5,3.5,4.0,4.8, 5.5,4.5,3.5,4.0,4.8,6.0,4.8,3.5,3.0,3.5],
  [5.5,4.8,7.0,9.2,9.0,8.7,9.2,10.6,10.8,8.0, 7.0,10.0,9.8,6.2,6.0,6.6,7.2,8.5,9.5,11.0, 10.5,9.5,9.8,11.0,10.0,9.5,10.0,13.0,11.0,10.0, 11.0,12.0,11.0,10.0,11.0,12.0,11.0,10.0,11.0,13.0, 14.0,15.0,16.0,14.0,12.0,13.0,15.0,17.0,19.0,21.0, 23.0,19.0,16.0,14.0,15.0,17.0,18.0,16.0,14.0,13.0],
  [6.4,5.6,7.9,10.0,9.8,9.5,10.0,12.2,12.0,9.3, 8.3,12.0,11.0,7.0,6.7,6.5,6.0,5.8,6.5,7.5, 8.0,7.8,7.2,8.0,7.8,7.5,8.0,9.5,8.5,7.8, 7.5,8.5,7.5,6.5,7.0,8.0,8.5,9.0,10.0,12.0, 15.0,17.0,20.0,18.0,15.0,12.0,11.0,12.0,14.0,13.0, 11.0,10.0,12.0,14.0,16.0,18.0,20.0,22.0,20.0,18.0],
  [5.9,5.3,7.4,9.5,9.3,9.0,9.5,11.2,11.2,8.6, 7.5,10.6,10.4,6.6,6.1,6.1,6.0,6.5,7.0,7.3, 7.0,6.8,7.2,8.0,7.2,6.8,7.2,8.5,7.8,7.0, 7.5,8.0,7.2,6.5,7.0,7.5,7.0,6.8,7.2,7.8, 7.2,6.8,6.5,7.5,7.2,7.0,7.2,8.0,8.5,8.0, 8.5,9.0,8.5,8.0,9.0,10.0,9.0,8.5,8.8,9.5]
];
const gustWarnLevel = 28.5;
const gustRefLevels = [20, 25];

// ---------- T2m ----------
const tempCtrl = [
  3.2,2.2,2.0,4.0,4.3,4.5,4.3,5.3,5.5,5.8,
  2.2,5.8,4.5,2.3,1.5,4.2,3.5,2.8,2.5,2.0,
  -0.5,-1.5,-3.5,0.3,-1.5,-3.0,-3.5,0.3,-2.0,-3.5,
  -4.8,-1.5,-3.5,-5.0,-6.0,-1.5,-3.5,-5.0,-6.5,-0.5,
  -3.0,-5.0,-6.5,-1.0,-3.5,-5.5,-6.0,-1.0,-2.5,-4.0,
  -5.5,-1.5,-4.0,-6.0,-8.8,-3.0,-4.5,-6.5,-8.8,-0.5];
const tempOper = [
  3.5,3.0,2.2,3.8,4.5,4.6,4.6,5.2,5.3,4.8,
  2.5,5.5,3.8,2.8,2.5,4.5,2.8,0.8,-0.3,0.0,
  -1.5,-3.0,-4.2,-0.2,-2.5,-3.5,-4.0,-0.2,-3.5,-5.0,
  -6.0,-1.5,-4.0,-5.5,-6.3,-1.0,-3.5,-4.8,-4.0,1.2];
const tempMean = [
  3.0,2.5,2.0,3.8,4.2,4.5,4.5,5.0,5.0,4.8,
  2.8,5.2,3.8,2.5,2.0,4.0,2.5,1.0,0.0,0.5,
  -1.0,-1.8,-2.0,0.0,-1.5,-2.5,-2.8,0.0,-2.0,-3.0,
  -4.3,-0.5,-2.5,-3.5,-4.5,-0.5,-2.0,-3.0,-3.0,0.5,
  -1.0,-2.0,-3.0,0.3,-1.5,-2.0,-1.8,1.0,-0.5,-1.5,
  -1.5,1.5,0.0,-0.5,-1.0,2.5,1.0,-0.3,0.5,2.8];
const tempCoreLow = [
  2.6,2.0,1.5,3.3,3.7,3.9,3.9,4.3,4.3,4.1,
  2.0,4.3,2.8,1.4,0.8,2.7,1.1,-0.5,-1.6,-1.2,
  -2.8,-3.7,-4.0,-2.1,-3.7,-4.8,-5.2,-2.5,-4.6,-5.7,
  -7.1,-3.4,-5.5,-6.6,-7.7,-3.8,-5.4,-6.5,-6.6,-3.2,
  -4.8,-5.9,-7.0,-3.8,-5.7,-6.3,-6.2,-3.5,-5.1,-6.2,
  -6.3,-3.4,-5.0,-5.6,-6.2,-2.8,-4.4,-5.8,-5.0,-2.8];
const tempCoreHigh = [
  3.4,3.0,2.5,4.3,4.7,5.1,5.1,5.7,5.7,5.5,
  3.6,6.1,4.8,3.6,3.2,5.3,3.9,2.5,1.6,2.2,
  0.8,0.1,0.0,2.1,0.7,-0.2,-0.4,2.5,0.6,-0.3,
  -1.5,2.4,0.5,-0.4,-1.3,2.8,1.4,0.5,0.6,4.2,
  2.8,1.9,1.0,4.4,2.7,2.3,2.6,5.5,4.1,3.2,
  3.3,6.4,5.0,4.6,4.2,7.8,6.4,5.2,6.0,8.4];
const tempMembers = [
  [3.3,2.6,2.3,4.5,5.0,5.2,5.0,6.5,6.8,6.0, 3.5,6.5,5.0,3.5,3.0,5.5,4.5,3.5,3.0,4.5, 3.0,2.5,2.0,5.5,4.5,4.0,3.5,7.0,6.0,5.5, 5.0,8.5,7.0,6.0,5.5,8.0,7.0,6.5,6.0,9.0, 7.5,6.5,6.0,9.5,8.0,7.0,6.5,9.0,7.5,6.5, 6.0,9.5,8.0,7.0,6.5,10.0,8.5,7.5,7.0,10.5],
  [2.8,2.0,1.5,3.5,3.8,4.0,3.8,4.5,4.8,4.5, 2.0,4.8,3.0,1.5,0.5,3.0,1.5,-0.5,-1.5,-0.5, -2.5,-4.0,-5.0,-1.5,-4.0,-5.5,-6.0,-2.0,-4.5,-6.0, -7.0,-3.0,-5.5,-7.0,-8.0,-3.5,-6.0,-8.0,-9.5,-4.0, -6.5,-8.5,-10.0,-5.0,-7.5,-9.5,-11.0,-6.0,-8.0,-10.0, -11.0,-6.5,-9.0,-10.5,-12.0,-6.0,-8.5,-10.5,-12.0,-7.0],
  [3.0,2.3,2.0,4.2,4.5,4.8,4.6,5.5,5.8,5.2, 2.8,5.5,4.0,2.5,2.0,4.5,3.0,1.5,0.5,1.5, -0.5,-1.5,-2.0,1.0,-0.5,-1.5,-2.0,1.5,0.0,-1.0, -2.0,1.0,-1.0,-2.0,-2.5,1.5,0.0,-1.0,-1.5,3.0, 1.0,-0.5,-1.0,4.0,2.0,1.0,0.5,5.0,3.0,2.0, 1.5,5.5,3.5,2.5,2.0,6.0,4.0,3.0,2.5,7.0],
  [3.2,2.5,2.2,3.8,4.0,4.3,4.2,5.2,5.0,4.6, 2.5,5.0,3.5,2.0,1.5,3.8,2.0,0.5,-0.5,0.5, -1.5,-2.5,-3.0,-0.5,-2.5,-3.5,-4.0,-1.0,-3.0,-4.5, -5.0,-1.0,-3.5,-5.0,-6.0,-2.0,-4.0,-6.0,-7.0,-2.5, -5.0,-7.0,-8.0,-3.5,-6.0,-8.0,-9.0,-4.0,-6.5,-8.5, -9.5,-5.0,-7.0,-8.5,-10.0,-5.5,-7.5,-9.0,-11.0,-6.0],
  [2.9,2.2,1.8,3.6,4.0,4.2,4.0,4.8,5.0,4.5, 2.6,5.0,3.6,2.2,1.8,3.8,2.5,1.5,1.0,2.0, 0.5,0.0,-0.5,2.5,1.0,0.5,0.0,3.5,2.0,1.0, 0.5,4.0,2.5,1.5,1.0,4.5,3.0,2.0,1.5,5.0, 3.5,2.5,2.0,6.0,4.5,3.5,3.0,7.0,5.0,4.0, 3.5,7.5,6.0,5.0,4.5,8.0,6.5,5.5,5.0,8.5],
  [3.4,2.8,2.5,4.4,4.8,5.0,4.8,6.0,6.2,5.5, 3.0,6.0,4.5,3.0,2.5,5.0,3.5,2.0,1.0,2.0, -0.5,-1.0,-1.5,1.5,-0.5,-1.5,-2.5,0.5,-1.5,-3.0, -4.0,-0.5,-2.5,-4.0,-5.0,-1.0,-3.5,-5.0,-6.0,-1.5, -3.5,-5.0,-6.0,-2.0,-4.0,-5.5,-6.5,-1.5,-3.5,-5.0, -6.0,-1.0,-3.0,-4.5,-5.5,-0.5,-2.5,-4.0,-5.0,0.5],
  [2.7,2.0,1.6,3.5,3.8,4.0,4.0,4.6,4.6,4.2, 2.3,4.6,3.2,2.0,1.2,3.2,1.8,0.2,-1.0,-0.5, -2.0,-3.0,-3.5,-1.0,-3.0,-4.0,-4.5,-1.5,-3.5,-5.0, -6.0,-2.0,-4.0,-5.5,-6.5,-2.5,-4.5,-6.0,-7.0,-1.0, -3.0,-4.5,-5.5,0.0,-2.0,-3.5,-4.5,1.0,-1.0,-2.5, -3.5,1.5,-0.5,-2.0,-3.0,2.0,0.0,-1.5,-2.5,2.5],
  [3.1,2.4,2.1,4.0,4.4,4.6,4.5,5.0,5.2,4.8, 2.7,5.3,3.9,2.5,2.0,4.2,2.8,1.2,0.3,1.0, -0.5,-1.0,-1.0,2.0,0.5,-0.5,-1.0,2.5,1.0,0.0, -1.0,2.5,1.0,0.0,-0.5,3.0,1.5,0.5,0.0,4.0, 2.5,1.5,1.0,5.0,3.5,2.5,2.0,3.0,1.5,0.5, 0.0,4.0,2.5,1.5,1.0,5.0,3.0,2.0,1.5,5.5],
  [3.0,2.5,2.1,3.9,4.3,4.4,4.4,5.4,5.6,5.0, 2.9,5.4,4.0,2.6,1.9,4.1,2.6,1.0,-0.5,0.0, -1.5,-2.0,-2.5,0.5,-1.5,-2.5,-3.0,0.5,-1.5,-2.5, -3.5,0.0,-2.0,-3.0,-4.0,0.5,-1.5,-3.0,-4.0,-0.5, -2.5,-4.0,-5.0,-1.0,-3.0,-4.5,-5.5,-0.5,-2.5,-4.0, -5.0,0.5,-1.5,-3.0,-4.0,1.5,-0.5,-2.0,-3.0,2.0],
  [3.3,2.7,2.3,4.1,4.6,4.8,4.7,5.6,6.0,5.5, 3.2,5.8,4.3,2.8,2.2,4.6,3.2,2.0,1.5,2.5, 1.5,1.0,0.5,3.5,2.0,1.5,1.0,4.0,2.5,1.5, 1.0,4.5,3.0,2.0,1.5,3.5,1.5,0.0,-1.0,2.0, 0.0,-1.5,-2.5,2.5,0.5,-1.0,-2.0,3.5,1.5,0.0, -1.0,4.0,2.0,0.5,0.0,4.5,2.5,1.0,0.0,5.0],
  [2.8,2.1,1.7,3.7,4.1,4.3,4.2,4.9,4.8,4.4, 2.4,4.8,3.4,2.1,1.5,3.5,2.2,0.8,-0.8,-0.5, -2.0,-2.8,-3.5,-0.5,-2.5,-3.5,-4.0,-0.5,-2.5,-4.0, -5.0,-1.5,-3.5,-4.5,-5.5,-1.5,-3.5,-5.0,-6.0,-2.0, -4.0,-5.5,-6.5,-2.5,-4.5,-6.0,-7.0,-3.0,-5.0,-6.5, -7.5,-3.0,-5.0,-6.5,-7.5,-2.5,-4.5,-6.0,-7.0,-1.0],
  [3.2,2.4,2.0,4.0,4.4,4.6,4.5,5.1,5.3,4.9, 2.8,5.2,3.8,2.4,1.9,4.0,2.6,1.2,0.2,0.8, -0.8,-1.5,-2.0,0.8,-1.0,-2.0,-2.5,1.0,-1.0,-2.0, -3.0,1.0,-1.0,-2.0,-3.0,2.0,0.0,-1.5,-2.5,3.0, 1.0,0.0,-0.5,4.5,2.5,1.5,1.0,5.5,3.5,2.5, 2.0,6.5,4.5,3.0,2.5,7.0,5.0,4.0,3.5,9.5]
];

// ---------- Sneeuwval / 6 uur ----------
const snowCtrl = [
  0,0,0,0,0,0,0,0,0,0, 0,0,0,0,0,0,0,0,0,0, 0,0,0,0,0,0,0,0,0,0,
  0,0,0,0,0,0,0,0,0,0, 0,0,0,0,0,0,0,0,0,0, 0,0,0,0,0,0,0,0,0,0];
const snowOper = [
  0,0,0,0,0,0,0,0,0,0, 0,0,0,0,0,0,0,0,0,0, 0,0,0,0,0,0,0,0,0,0, 0,0,0,0,0,0,0,0,0,0];
const snowMean = [
  0,0,0,0,0,0,0,0,0,0,
  0,0,0,0,0,0,0.01,0.02,0.03,0.05,
  0.1,0.08,0.06,0.05,0.05,0.04,0.05,0.05,0.04,0.03,
  0.02,0.02,0.01,0.02,0.03,0.04,0.05,0.06,0.08,0.08,
  0.1,0.15,0.1,0.06,0.04,0.1,0.15,0.12,0.08,0.1,
  0.1,0.08,0.1,0.08,0.1,0.1,0.12,0.1,0.12,0.1];
const snowCoreLow = [
  0,0,0,0,0,0,0,0,0,0, 0,0,0,0,0,0,0,0,0,0, 0,0,0,0,0,0,0,0,0,0,
  0,0,0,0,0,0,0,0,0,0, 0,0,0,0,0,0,0,0,0,0, 0,0,0,0,0,0,0,0,0,0];
const snowCoreHigh = [
  0,0,0,0,0,0,0,0,0,0,
  0,0,0,0,0,0,0.05,0.1,0.2,0.3,
  0.3,0.25,0.2,0.15,0.15,0.1,0.1,0.1,0.1,0.05,
  0.05,0.05,0.05,0.05,0.1,0.1,0.15,0.2,0.25,0.25,
  0.3,0.3,0.3,0.2,0.15,0.25,0.3,0.3,0.25,0.25,
  0.25,0.25,0.3,0.25,0.25,0.25,0.3,0.3,0.3,0.3];
const snowMembers = [
  [0,0,0,0,0,0,0,0,0,0, 0,0,0,0,0,0,0,0,0.4,3.6, 1.2,0.3,0,0,0,0,0,0,0,0, 0,0,0,0,0,0,0,0,0,0, 0,0,0,0,0,0.5,4.5,1.0,0.2,0, 0,0,0,0,0,0,0,0,0,0],
  [0,0,0,0,0,0,0,0,0,0, 0,0,0,0,0,0,0,0,0,0, 0,0,0,0.2,0.8,1.5,2.5,3.6,2.0,0.5, 0,0,0,0,0,0,0,0,0,0, 0,0,0,0,0,0,0,0,0,0, 0,0,3.1,1.5,0.3,0,0,0,0,0],
  [0,0,0,0,0,0,0,0,0.1,0, 0,0,0,0,0,0,0,0.3,1.4,0.5, 0.8,0.3,0.5,0.2,0,0,0,0,0,0, 0,0,0,0,0,0,1.8,0.8,0.3,0, 0,0,0,0,0,0,0,2.4,1.0,0.2, 0,0,0,0,0,0,0,0,0,0],
  [0,0,0,0,0,0,0,0,0,0, 0,0,0,0,0,0.5,0.2,0,0,0, 0.2,0.6,1.0,0.4,0.1,0,0,0,0,0.2, 1.7,0.5,0.2,0,0,0,0,0,0,0, 0,3.7,1.0,0.3,0,0,0,0,0,0, 0,0,0,0,0,0.5,3.3,1.0,0.2,0],
  [0,0,0,0,0,0,0,0,0,0, 0,0,0,0,0,0,0,0,0,0, 0,0,0,0,0,0,0,0,0,0, 0,0.3,1.6,0.5,0,0,0,0,0.5,1.3, 0.5,0.2,0,0,0,0,2.9,0.8,0.2,0, 0,0,0,0,0,0,0,0,0.8,4.6],
  [0,0,0,0,0,0,0,0,0,0, 0,0,0,0,0,0,0,0,0,0.2, 0.5,0.8,0.3,0.9,0.4,0.1,0,0,0,0, 0,0,0,0,0,0,0,0,0,0, 0,0,0,0.2,0.5,0.3,0,0,1.7,0.6, 0.2,0,1.0,0.5,1.9,1.0,0.3,0,0,0],
  [0,0,0,0,0,0,0,0,0,0, 0,0,0,0,0,0,0,0,0,0, 0,0,0,0,0,0,0,0,0,0, 0,0,0,0,0,0,0.5,1.0,1.3,0.6, 0.2,2.5,3.2,1.0,0.3,0,0,0,0,0, 0,0,0,0,0,0,0,0,0,0],
  [0,0,0,0,0,0,0,0.1,0,0, 0,0,0.2,0,0.1,0.5,0.2,0,0,0, 0,0,0,0,0,0,0,0,0,0, 0,0,0,0,0,0,0,0,0,0, 0,0,0,0,0,0,0,0,0,0, 0,0,0,0,0,0,0,0,0,0],
  [0,0,0,0,0,0,0,0,0,0, 0,0,0,0,0,0,0.3,0,0,0.4, 1.0,0.6,0.8,0.3,0.2,0.8,0.5,0.3,0,0, 0,0,0,0,0,0,0,0,0,0, 0,0,0,0,0,0,0,0,0,0, 1.2,1.7,1.5,0.8,0.5,0.3,0.2,0,0,0],
  [0,0,0,0,0,0,0,0,0,0, 0,0,0,0,0,0,0,0,0,0, 0,0,0,0,0,0,0,0,0,0, 0,0,0,0,0,0,0,0,0,0, 0,0,0,0,0,0.3,0.8,0.5,0.2,0, 0,0,0,0,0,0,0,0,1.5,1.3],
  [0,0,0,0,0,0,0,0,0,0, 0,0,0,0,0,0,0,0,0,0, 0,0,0,0,0,0,0,0,0,0, 1.6,0.8,0,0,0,0,0,0,0,0, 0,0,0,0,0,0,0,0,0,0, 0,0,0,0,0,0,0,0,0,0],
  [0,0,0,0,0,0,0,0,0,0, 0,0,0,0,0,0,0,0,0,0, 0,0,0,0,0,0,0,0,0,0, 0,0,0,0,0,0,0,0,0,0, 0,0,0,0,0,0,0,0,0.5,0.8, 0.5,0.2,1.0,0.5,0.3,0,0.5,0.3,0,0]
];
const snowWarnLevel = 5;

// ---------- drawing ----------
const FONT = '"Liberation Sans", Arial, sans-serif';
const GREEN = 'rgb(134,187,86)';
const GREEN_CORE = 'rgba(128,184,78,0.6)';
const CTRL_BLUE = '#1c1cff';
const MEAN_BROWN = '#7d1a0e';
const PLOT = { left: 32, right: 358, top: 18, bottom: 156 };

function pts(values) {
  return values.map((v, i) => ({ x: (i + 1) * STEP_H, y: v }));
}

function hLine(ctx, area, py, color, width, dash) {
  ctx.save();
  ctx.strokeStyle = color;
  ctx.lineWidth = width;
  ctx.setLineDash(dash);
  ctx.beginPath();
  ctx.moveTo(area.left, py);
  ctx.lineTo(area.right, py);
  ctx.stroke();
  ctx.restore();
}

const decor = p => ({
  id: 'decor',
  beforeDatasetsDraw(chart) {
    const y = chart.scales.y, a = chart.chartArea, ctx = chart.ctx;
    (p.dotted || []).forEach(v => hLine(ctx, a, Math.round(y.getPixelForValue(v)) + 0.5, '#000', 1, [1, 2]));
    if (p.warn !== undefined) {
      hLine(ctx, a, Math.round(y.getPixelForValue(p.warn)) + 0.5, p.warnColor, p.warnWidth, [5, 3]);
    }
  },
  afterDatasetsDraw(chart) {
    if (p.zeroLine) {
      const y = chart.scales.y;
      hLine(chart.ctx, chart.chartArea, y.getPixelForValue(0), '#000', 3, []);
    }
  },
  afterDraw(chart) {
    const ctx = chart.ctx, a = chart.chartArea, x = chart.scales.x;
    const cx = (a.left + a.right) / 2;
    ctx.save();

    // top frame line
    ctx.strokeStyle = '#707070';
    ctx.lineWidth = 1;
    ctx.beginPath();
    ctx.moveTo(a.left, a.top + 0.5);
    ctx.lineTo(a.right, a.top + 0.5);
    ctx.stroke();

    // small grey marks under the time axis
    ctx.strokeStyle = '#a8a8a8';
    for (let h = STEP_H; h < 360; h += STEP_H) {
      const px = Math.round(x.getPixelForValue(h)) + 0.5;
      ctx.beginPath();
      ctx.moveTo(px, a.bottom + 1);
      ctx.lineTo(px, a.bottom + 3);
      ctx.stroke();
    }

    // time labels
    ctx.fillStyle = '#000';
    ctx.textAlign = 'center';
    ctx.textBaseline = 'middle';
    ctx.font = `9px ${FONT}`;
    dayNames.forEach((d, k) => ctx.fillText(d, x.getPixelForValue(24 * k), a.bottom + 9));
    ctx.font = `bold 5px ${FONT}`;
    for (let k = 0; k < dayNames.length - 1; k++) {
      ctx.fillText(midnightLabel, x.getPixelForValue(24 * k + 12), a.bottom + 4.5);
    }
    ctx.font = `bold 12px ${FONT}`;
    ctx.fillText('Dag', cx, a.bottom + 18);

    ctx.fillStyle = '#1414ff';
    ctx.font = `bold 7.5px ${FONT}`;
    ctx.textAlign = 'right';
    ctx.fillText('Bron: ECMWF/KNMI', a.right + 14, a.bottom + 19);

    // title with mixed weight
    ctx.fillStyle = '#000';
    ctx.textAlign = 'left';
    const fontOf = b => `${b ? 'bold ' : ''}11px ${FONT}`;
    let total = 0;
    titleParts.forEach(([t, b]) => { ctx.font = fontOf(b); total += ctx.measureText(t).width; });
    let tx = cx - total / 2;
    titleParts.forEach(([t, b]) => {
      ctx.font = fontOf(b);
      ctx.fillText(t, tx, 8);
      tx += ctx.measureText(t).width;
    });

    // station and variable
    ctx.textAlign = 'center';
    ctx.font = `10px ${FONT}`;
    ctx.fillText(station, 320, a.top + 6);
    ctx.fillText(p.name, 320, a.top + 16);

    // y title
    ctx.save();
    ctx.translate(12, (a.top + a.bottom) / 2);
    ctx.rotate(-Math.PI / 2);
    ctx.font = `bold 12px ${FONT}`;
    ctx.fillText(p.unit, 0, 0);
    ctx.restore();

    // legend
    const lx0 = a.left + 3, lx1 = a.left + 25;
    const rows = [
      ['Control', CTRL_BLUE, 1.5, [5, 3]],
      ['Oper', p.operColor, p.operWidth, []],
      ['Ens mn', MEAN_BROWN, 3, [3, 3]]
    ];
    rows.forEach(([label, color, w, dash], r) => {
      const ly = a.top + 7 + r * 6.5;
      ctx.save();
      ctx.strokeStyle = color;
      ctx.lineWidth = w;
      ctx.setLineDash(dash);
      ctx.beginPath();
      ctx.moveTo(lx0, ly);
      ctx.lineTo(lx1, ly);
      ctx.stroke();
      ctx.restore();
      ctx.fillStyle = '#000';
      ctx.font = `bold 7px ${FONT}`;
      ctx.fillText(label, a.left + 48, ly);
    });
    ctx.restore();
  }
});

function buildChart(id, p) {
  const canvas = document.getElementById(id);
  const W = canvas.width, H = canvas.height;
  const datasets = [
    { data: pts(p.oper), borderColor: p.operColor, borderWidth: p.operWidth },
    { data: pts(p.ctrl), borderColor: CTRL_BLUE, borderWidth: 1.5, borderDash: [5, 3] },
    { data: pts(p.mean), borderColor: MEAN_BROWN, borderWidth: 3, borderDash: [3, 3] }
  ];
  p.members.forEach(m => datasets.push({ data: pts(m), borderColor: GREEN, borderWidth: 1 }));
  // crowded core of the ensemble, drawn underneath the member lines
  datasets.push({ data: pts(p.coreLow), borderWidth: 0, borderColor: 'rgba(0,0,0,0)', fill: false });
  datasets.push({ data: pts(p.coreHigh), borderWidth: 0.8, borderColor: GREEN, backgroundColor: GREEN_CORE, fill: '-1' });

  const yAxis = side => ({
    position: side,
    min: p.min,
    max: p.max,
    ticks: { stepSize: p.step, color: '#000', font: { family: FONT, size: 9 }, padding: 2 },
    grid: { drawOnChartArea: false, tickLength: 3, color: '#000' },
    border: side === 'left' ? { color: '#6a6a6a', width: 1 } : { color: '#8a8a8a', width: 3 },
    afterFit: s => { s.width = side === 'left' ? PLOT.left : W - PLOT.right; }
  });

  return new Chart(canvas, {
    type: 'line',
    data: { datasets },
    options: {
      responsive: false,
      animation: false,
      events: [],
      layout: { padding: { top: PLOT.top, left: 0, right: 0, bottom: 0 } },
      elements: { point: { radius: 0 }, line: { tension: 0 } },
      plugins: { legend: { display: false }, tooltip: { enabled: false }, title: { display: false } },
      scales: {
        x: {
          type: 'linear', min: 0, max: 360,
          ticks: { display: false },
          grid: { display: false },
          border: { display: true, color: '#000', width: 1 },
          afterFit: s => { s.height = H - PLOT.bottom; }
        },
        y: yAxis('left'),
        y2: yAxis('right')
      }
    },
    plugins: [decor(p)]
  });
}

const operRed = '#ff0000';
const operLight = '#ff3a3a';

buildChart('p1', { name: 'Neerslag/6 uur', unit: 'mm', min: 0, max: 20, step: 5,
  ctrl: rain6Ctrl, oper: rain6Oper, mean: rain6Mean, members: rain6Members,
  coreLow: rain6CoreLow, coreHigh: rain6CoreHigh,
  operColor: operRed, operWidth: 1.5, dotted: rainRefLevels });
buildChart('p2', { name: 'Accum Neerslag', unit: 'mm', min: 0, max: 60, step: 10,
  ctrl: accCtrl, oper: accOper, mean: accMean, members: accMembers,
  coreLow: accCoreLow, coreHigh: accCoreHigh,
  operColor: operRed, operWidth: 1.5 });
buildChart('p3', { name: '10m wind', unit: 'm/s', min: 0, max: 20, step: 5,
  ctrl: windCtrl, oper: windOper, mean: windMean, members: windMembers,
  coreLow: windCoreLow, coreHigh: windCoreHigh,
  operColor: operLight, operWidth: 2.5, dotted: windRefLevels });
buildChart('p4', { name: 'Windstoten', unit: 'm/s', min: 0, max: 35, step: 5,
  ctrl: gustCtrl, oper: gustOper, mean: gustMean, members: gustMembers,
  coreLow: gustCoreLow, coreHigh: gustCoreHigh,
  operColor: operLight, operWidth: 2.5, dotted: gustRefLevels,
  warn: gustWarnLevel, warnColor: '#ff00ff', warnWidth: 1.5 });
buildChart('p5', { name: 'T2m', unit: 'Celsius', min: -15, max: 15, step: 5,
  ctrl: tempCtrl, oper: tempOper, mean: tempMean, members: tempMembers,
  coreLow: tempCoreLow, coreHigh: tempCoreHigh,
  operColor: operRed, operWidth: 1.5, zeroLine: true });
buildChart('p6', { name: 'Sneeuwval/6 uur', unit: 'cm', min: 0, max: 6, step: 1,
  ctrl: snowCtrl, oper: snowOper, mean: snowMean, members: snowMembers,
  coreLow: snowCoreLow, coreHigh: snowCoreHigh,
  operColor: operRed, operWidth: 1.5,
  warn: snowWarnLevel, warnColor: '#ff66ff', warnWidth: 2 });
</script>
</body>
</html>
